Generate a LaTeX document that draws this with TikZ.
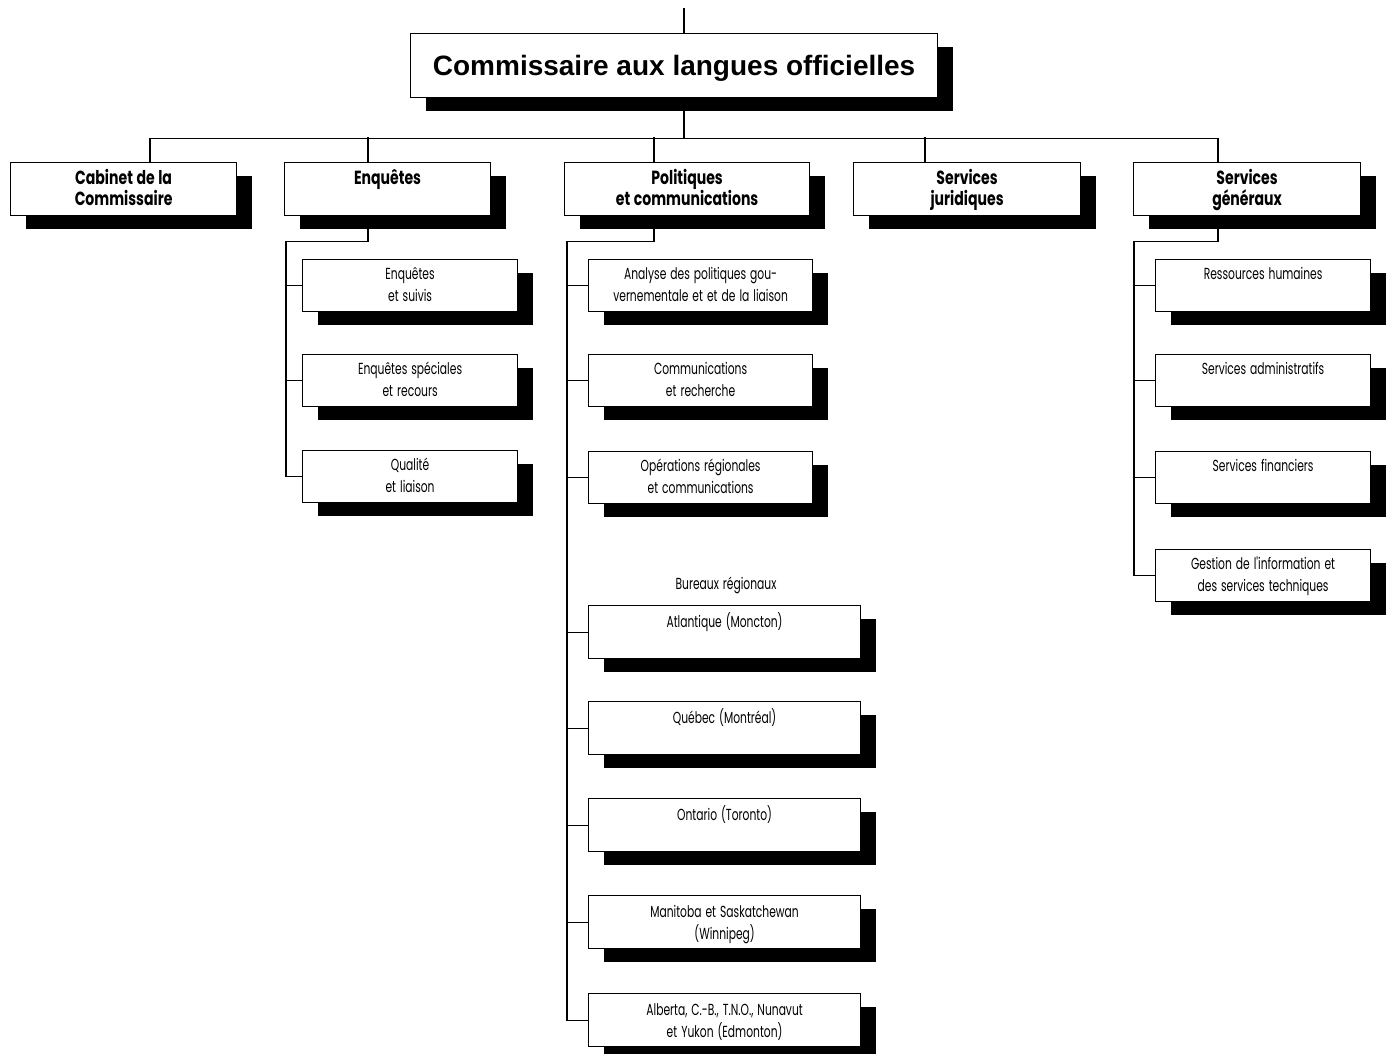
\documentclass[tikz,border=0pt]{standalone}
\usepackage{fontspec}
\usepackage{tikz}
\usetikzlibrary{shadows}
\newfontfamily\titlefont{Liberation Sans}
\newfontfamily\headfont[FakeStretch=0.74, WordSpace=1.2]{Poppins}
\newfontfamily\subfont[FakeStretch=0.67, WordSpace=1.4]{Poppins}
\tikzset{
  shadowed/.style={drop shadow={shadow xshift=15pt, shadow yshift=-13pt, fill=black, opacity=1}},
  topbox/.style={rectangle, draw, fill=white, line width=1.2pt, anchor=north west, minimum width=527pt, minimum height=64pt, text height=28pt, text depth=8pt, font=\titlefont\bfseries\fontsize{28}{32}\selectfont, shadowed},
  headbox/.style={rectangle, draw, fill=white, line width=1.2pt, anchor=north west, inner sep=0pt, align=flush center, text height=22pt, text depth=31pt, font=\headfont\bfseries\fontsize{19}{21}\selectfont, shadowed},
  subbox/.style={rectangle, draw, fill=white, line width=1.2pt, anchor=north west, inner sep=0pt, align=flush center, text height=20pt, text depth=32pt, font=\subfont\fontsize{16}{21.5}\selectfont, shadowed},
  regbox/.style={subbox, text width=272pt, text height=22pt, text depth=31pt},
  link/.style={line width=1.2pt}
}
\begin{document}
\begin{tikzpicture}[x=1pt, y=-1pt]
  \useasboundingbox (0,0) rectangle (1390,1053);
  % top
  \node[topbox] (clo) at (410,33) {Commissaire aux langues officielles};
  % directions
  \node[headbox, text width=226pt] (cab) at (10,162) {Cabinet de la\\Commissaire};
  \node[headbox, text width=206pt] (enq) at (284,162) {Enquêtes};
  \node[headbox, text width=245pt] (pol) at (564,162) {Politiques\\et communications};
  \node[headbox, text width=227pt] (jur) at (853,162) {Services\\juridiques};
  \node[headbox, text width=227pt] (gen) at (1133,162) {Services\\généraux};
  % enquetes
  \node[subbox, text width=215pt] (ens) at (302,259) {Enquêtes\\et suivis};
  \node[subbox, text width=215pt] (esp) at (302,354) {Enquêtes spéciales\\et recours};
  \node[subbox, text width=215pt] (qul) at (302,450) {Qualité\\et liaison};
  % politiques
  \node[subbox, text width=224pt] (apg) at (588,259) {Analyse des politiques gou-\\vernementale et et de la liaison};
  \node[subbox, text width=224pt] (cre) at (588,354) {Communications\\et recherche};
  \node[subbox, text width=224pt] (opr) at (588,451) {Opérations régionales\\et communications};
  \node[font=\subfont\fontsize{16}{21.5}\selectfont] (bur) at (726,585) {Bureaux régionaux};
  \node[regbox] (atl) at (588,605) {Atlantique (Moncton)};
  \node[regbox] (qbc) at (588,701) {Québec (Montréal)};
  \node[regbox] (ont) at (588,798) {Ontario (Toronto)};
  \node[regbox] (man) at (588,895) {Manitoba et Saskatchewan\\(Winnipeg)};
  \node[regbox] (alb) at (588,993) {Alberta, C.-B., T.N.O., Nunavut\\et Yukon (Edmonton)};
  % services generaux
  \node[subbox, text width=215pt] (rhu) at (1155,259) {Ressources humaines};
  \node[subbox, text width=215pt] (sad) at (1155,354) {Services administratifs};
  \node[subbox, text width=215pt] (sfi) at (1155,451) {Services financiers};
  \node[subbox, text width=215pt] (gis) at (1155,549) {Gestion de l'information et\\des services techniques};
  % connectors
  \coordinate (apex) at (684,8);
  \draw[link] (apex) -- ([xshift=274pt]clo.north west);
  \draw[link] ([xshift=274pt]clo.south west) -- ++(0,40) coordinate (hub);
  \draw[link] ([xshift=140pt]cab.north west) |- (hub) -| ([xshift=85pt]gen.north west);
  \draw[link] ([xshift=84pt]enq.north west) -- ++(0,-25);
  \draw[link] ([xshift=90pt]pol.north west) -- ++(0,-25);
  \draw[link] ([xshift=72pt]jur.north west) -- ++(0,-25);
  \draw[link] ([xshift=84pt]enq.south west) -- ++(0,25) -| ([xshift=-16pt]qul.west) -- (qul.west);
  \foreach \n in {ens,esp} \draw[link] (\n.west) -- ++(-16,0);
  \draw[link] ([xshift=90pt]pol.south west) -- ++(0,25) -| ([xshift=-21pt]alb.west) -- (alb.west);
  \foreach \n in {apg,cre,opr,atl,qbc,ont,man} \draw[link] (\n.west) -- ++(-21,0);
  \draw[link] ([xshift=85pt]gen.south west) -- ++(0,25) -| ([xshift=-21pt]gis.west) -- (gis.west);
  \foreach \n in {rhu,sad,sfi} \draw[link] (\n.west) -- ++(-21,0);
\end{tikzpicture}
\end{document}
